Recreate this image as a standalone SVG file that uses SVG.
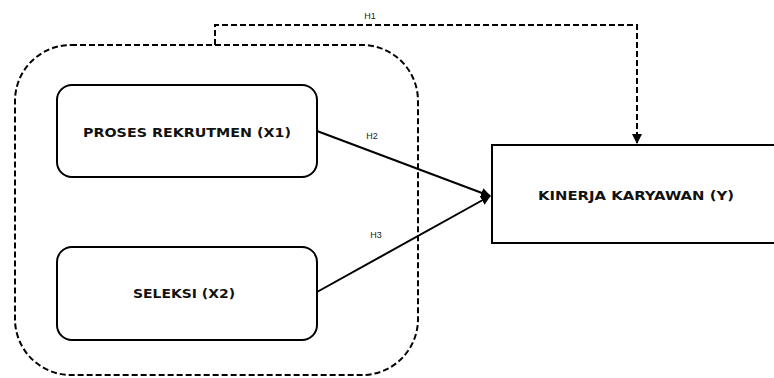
<svg xmlns="http://www.w3.org/2000/svg" width="774" height="378" viewBox="0 0 774 378">
<style>
.node{fill:#fff;stroke:#000;stroke-width:2}
.lbl{font-family:"DejaVu Sans",sans-serif;font-weight:bold;font-size:12px;fill:#111;text-anchor:middle}
.h{font-family:"Liberation Sans",sans-serif;font-size:9px;fill:#222;text-anchor:middle}
.dash{fill:none;stroke:#000;stroke-width:2;stroke-dasharray:6 3}
.line{fill:none;stroke:#000;stroke-width:2}
</style>
<defs>
<marker id="arr" viewBox="0 0 10 10" refX="9" refY="5" markerWidth="5" markerHeight="5" orient="auto" markerUnits="strokeWidth">
<path d="M0,0 L10,5 L0,10 z" fill="#000"/>
</marker>
</defs>
<rect width="774" height="378" fill="#fff"/>
<g id="group-x">
<rect class="dash" x="15" y="45" width="403" height="330" rx="56" ry="56"/>
</g>
<g id="connectors">
<path class="dash" d="M215,45 V25 H637 V143" marker-end="url(#arr)"/>
<path class="line" d="M317,131 L490,196" marker-end="url(#arr)"/>
<path class="line" d="M317,292 L490,196" marker-end="url(#arr)"/>
<text class="h" x="370" y="19">H1</text>
<text class="h" x="372" y="139">H2</text>
<text class="h" x="376" y="238">H3</text>
</g>
<g id="x1">
<rect class="node" x="57" y="85" width="260" height="92" rx="15"/>
<text class="lbl" x="187" y="137" textLength="208" lengthAdjust="spacingAndGlyphs">PROSES REKRUTMEN (X1)</text>
</g>
<g id="x2">
<rect class="node" x="57" y="247" width="260" height="93" rx="15"/>
<text class="lbl" x="184" y="298" textLength="102" lengthAdjust="spacingAndGlyphs">SELEKSI (X2)</text>
</g>
<g id="y">
<rect class="node" x="492" y="145" width="290" height="98"/>
<text class="lbl" x="636" y="200" textLength="196" lengthAdjust="spacingAndGlyphs">KINERJA KARYAWAN (Y)</text>
</g>
</svg>
